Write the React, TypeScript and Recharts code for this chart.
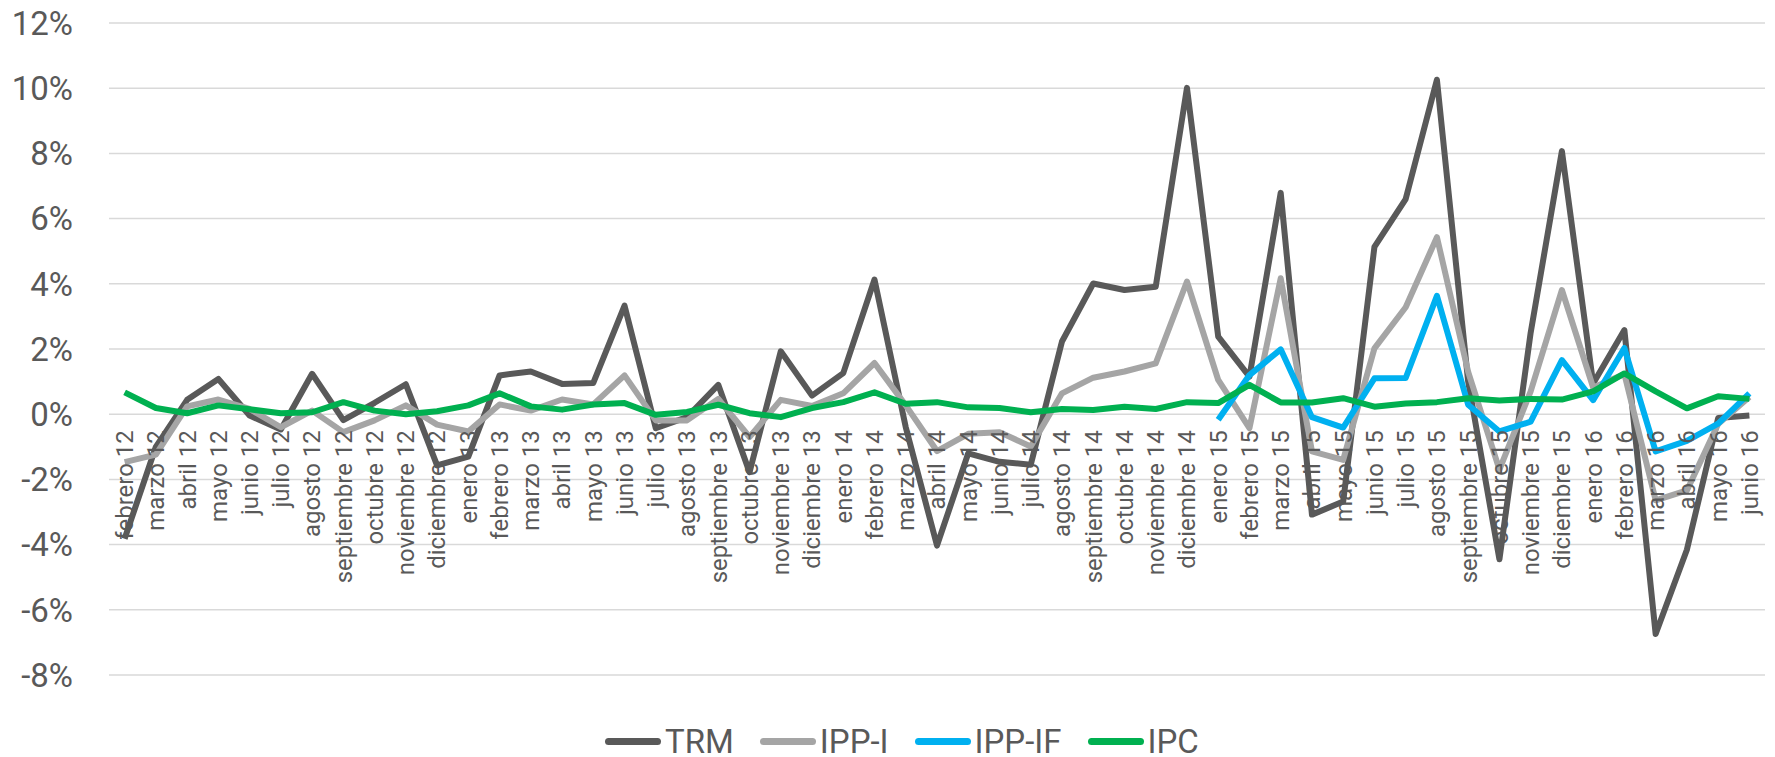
import { LineChart, Line, XAxis, YAxis, CartesianGrid, Legend } from 'recharts'

const MESES = [
  'febrero 12', 'marzo 12', 'abril 12', 'mayo 12', 'junio 12', 'julio 12', 'agosto 12', 'septiembre 12', 'octubre 12', 'noviembre 12', 'diciembre 12',
  'enero 13', 'febrero 13', 'marzo 13', 'abril 13', 'mayo 13', 'junio 13', 'julio 13', 'agosto 13', 'septiembre 13', 'octubre 13', 'noviembre 13', 'diciembre 13',
  'enero 14', 'febrero 14', 'marzo 14', 'abril 14', 'mayo 14', 'junio 14', 'julio 14', 'agosto 14', 'septiembre 14', 'octubre 14', 'noviembre 14', 'diciembre 14',
  'enero 15', 'febrero 15', 'marzo 15', 'abril 15', 'mayo 15', 'junio 15', 'julio 15', 'agosto 15', 'septiembre 15', 'octubre 15', 'noviembre 15', 'diciembre 15',
  'enero 16', 'febrero 16', 'marzo 16', 'abril 16', 'mayo 16', 'junio 16',
]

const TRM = [
  -3.82, -1.0, 0.44, 1.08, -0.04, -0.47, 1.24, -0.18, 0.35, 0.92,
  -1.57, -1.3, 1.19, 1.31, 0.93, 0.96, 3.33, -0.43, -0.09, 0.9,
  -1.78, 1.93, 0.57, 1.26, 4.13, -0.4, -4.03, -1.2, -1.46, -1.55,
  2.23, 4.01, 3.81, 3.91, 10.01, 2.38, 1.15, 6.79, -3.08, -2.68,
  5.13, 6.6, 10.26, 1.0, -4.45, 2.5, 8.07, 0.94, 2.58, -6.74,
  -4.16, -0.12, -0.04,
]

const IPP_I = [
  -1.47, -1.24, 0.24, 0.45, 0.16, -0.4, 0.11, -0.55, -0.19, 0.27,
  -0.32, -0.53, 0.3, 0.11, 0.45, 0.3, 1.19, -0.19, -0.19, 0.47,
  -0.7, 0.44, 0.25, 0.64, 1.57, 0.27, -1.13, -0.6, -0.55, -0.99,
  0.64, 1.12, 1.31, 1.56, 4.07, 1.05, -0.43, 4.17, -1.14, -1.4,
  2.02, 3.28, 5.43, 1.3, -1.7, 0.7, 3.81, 0.82, 1.23, -2.64,
  -2.34, -0.3, 0.53,
]

// IPP-IF only exists from enero 15 on
const IPP_IF_DESDE = 35
const IPP_IF = [
  -0.17, 1.2, 1.99, -0.09, -0.41, 1.1, 1.11, 3.63, 0.29, -0.53,
  -0.23, 1.66, 0.43, 2.03, -1.14, -0.82, -0.29, 0.64,
]

const IPC = [
  0.67, 0.19, 0.03, 0.27, 0.15, 0.03, 0.06, 0.37, 0.11, 0.0,
  0.09, 0.27, 0.64, 0.24, 0.14, 0.3, 0.34, -0.02, 0.07, 0.29,
  0.03, -0.09, 0.19, 0.37, 0.67, 0.32, 0.37, 0.21, 0.19, 0.06,
  0.16, 0.13, 0.23, 0.16, 0.37, 0.34, 0.9, 0.36, 0.36, 0.49,
  0.23, 0.33, 0.37, 0.49, 0.42, 0.47, 0.45, 0.7, 1.25, 0.7,
  0.18, 0.55, 0.47,
]

const Y_TICKS = [-8, -6, -4, -2, 0, 2, 4, 6, 8, 10, 12]

const SERIES = [
  { key: 'TRM', color: '#595959' },
  { key: 'IPP-I', color: '#A5A5A5' },
  { key: 'IPP-IF', color: '#00B0F0' },
  { key: 'IPC', color: '#00B050' },
]

const data = MESES.map((mes, i) => ({
  mes,
  TRM: TRM[i],
  'IPP-I': IPP_I[i],
  'IPP-IF': i >= IPP_IF_DESDE ? IPP_IF[i - IPP_IF_DESDE] : null,
  IPC: IPC[i],
}))

const WIDTH = 1775
const HEIGHT = 757
const Y_AXIS_W = 109
const X_AXIS_H = 30
const MARGIN = { top: 23, right: 10, bottom: 82 - X_AXIS_H, left: 0 }
const PLOT_W = WIDTH - MARGIN.left - MARGIN.right - Y_AXIS_W
const PLOT_H = HEIGHT - MARGIN.top - MARGIN.bottom - X_AXIS_H
// points sit in the middle of each month's slot, like Excel's "between tick marks"
const X_PAD = PLOT_W / MESES.length / 2
const Y_MIN = Y_TICKS[0]
const Y_MAX = Y_TICKS[Y_TICKS.length - 1]
const FONT = 'Roboto, "Open Sans", sans-serif'
const TEXT = '#595959'

// Excel hangs the month labels from the 0% line, not from the bottom of the plot
const ZERO_Y = MARGIN.top + (PLOT_H * Y_MAX) / (Y_MAX - Y_MIN)

function MonthTick({ x, payload }: any) {
  const y = ZERO_Y + 16
  return (
    <text
      x={x}
      y={y}
      dy="0.35em"
      transform={`rotate(-90, ${x}, ${y})`}
      textAnchor="end"
      fill={TEXT}
      fontSize={24}
      fontFamily={FONT}
    >
      {payload.value}
    </text>
  )
}

function LegendContent() {
  return (
    <div style={{ display: 'flex', alignItems: 'center', height: 40, fontFamily: FONT, fontSize: 33, color: TEXT }}>
      {SERIES.map((s) => (
        <div key={s.key} style={{ display: 'flex', alignItems: 'center', marginRight: 26 }}>
          <span style={{ width: 56, height: 7, borderRadius: 4, background: s.color, marginRight: 4 }} />
          <span>{s.key}</span>
        </div>
      ))}
    </div>
  )
}

export default function App() {
  return (
    <div style={{ position: 'absolute', left: 0, top: 0, background: '#fff' }}>
      <LineChart width={WIDTH} height={HEIGHT} data={data} margin={MARGIN}>
        <CartesianGrid vertical={false} stroke="#D9D9D9" strokeWidth={1.5} />
        <XAxis
          dataKey="mes"
          interval={0}
          axisLine={false}
          tickLine={false}
          height={X_AXIS_H}
          padding={{ left: X_PAD, right: X_PAD }}
          tick={<MonthTick />}
        />
        <YAxis
          width={Y_AXIS_W}
          domain={[Y_MIN, Y_MAX]}
          ticks={Y_TICKS}
          tickFormatter={(v) => `${v}%`}
          axisLine={false}
          tickLine={false}
          tickSize={0}
          tickMargin={36}
          tick={{ fill: TEXT, fontSize: 33, fontFamily: FONT }}
        />
        <Legend
          layout="horizontal"
          verticalAlign="middle"
          align="center"
          content={<LegendContent />}
          wrapperStyle={{ top: 721, left: 605, width: 700 }}
        />
        {SERIES.map((s) => (
          <Line
            key={s.key}
            type="linear"
            dataKey={s.key}
            stroke={s.color}
            strokeWidth={6}
            strokeLinejoin="round"
            dot={false}
            activeDot={false}
            connectNulls={false}
            isAnimationActive={false}
          />
        ))}
      </LineChart>
    </div>
  )
}
